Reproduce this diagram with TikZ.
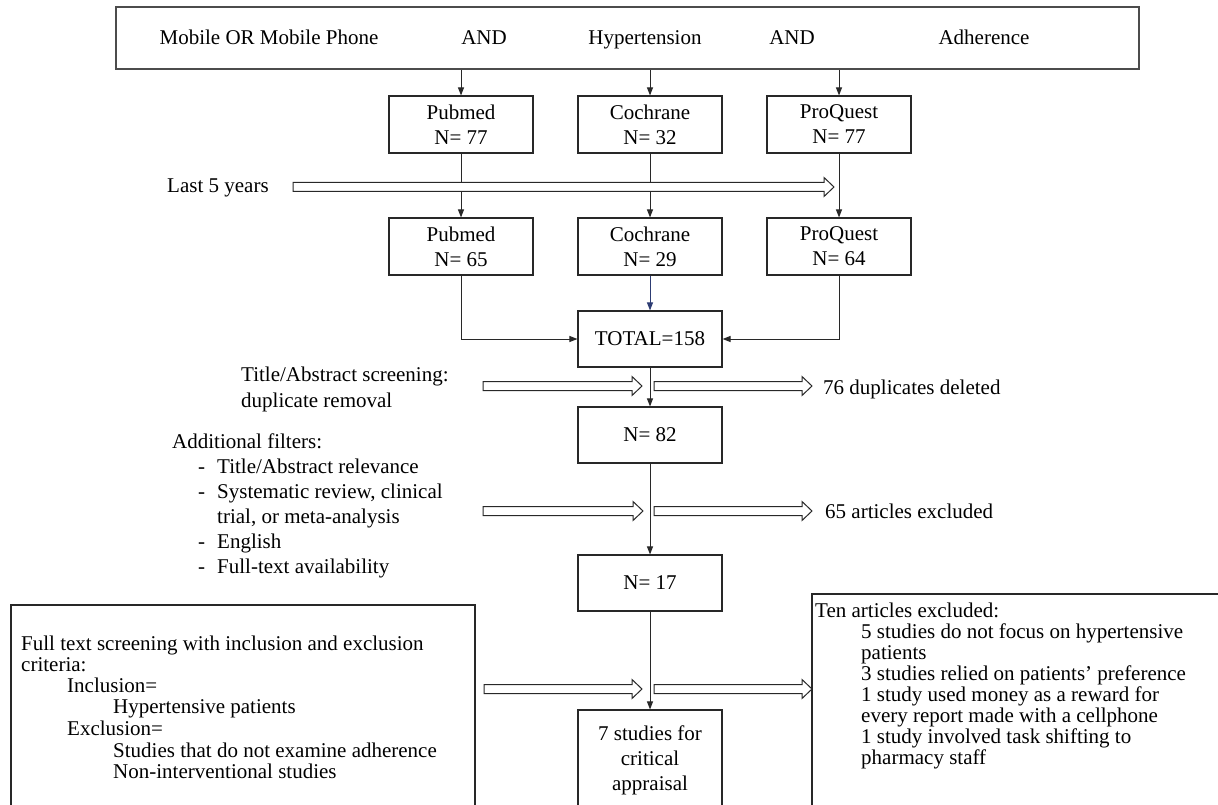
\documentclass[tikz,border=0pt]{standalone}
\usepackage{fontspec}
\setmainfont{Liberation Serif}
\usetikzlibrary{arrows.meta}
\definecolor{linecol}{RGB}{40,40,40}
\definecolor{bluecol}{RGB}{45,60,115}
\newcommand\myfs{\fontsize{21}{25}\selectfont}
\tikzset{
  box/.style={draw=linecol,line width=1.1pt,minimum width=144pt,minimum height=57pt,align=center,inner sep=2pt,font=\myfs},
  bigbox/.style={draw=linecol,line width=1.1pt,inner sep=0pt},
  lab/.style={anchor=base west,inner sep=0pt,font=\myfs},
  clab/.style={anchor=base,inner sep=0pt,font=\myfs},
  arr/.style={line width=1pt,draw=linecol,-{Triangle[length=8pt,width=6pt]}},
  pics/harrow/.style={code={\draw[line width=1pt,draw=linecol,fill=white] (0,-4.5)--(#1-10,-4.5)--(#1-10,-9.5)--(#1,0)--(#1-10,9.5)--(#1-10,4.5)--(0,4.5)--cycle;}}
}
\begin{document}
\begin{tikzpicture}[x=1pt,y=-1pt]
\useasboundingbox (0,0) rectangle (1218,805);
\clip (0,0) rectangle (1218,805);
\fill[white] (0,0) rectangle (1218,805);

% top search box
\node[bigbox,draw=black!70,line width=1.6pt,minimum width=1023pt,minimum height=62pt] (top) at (627.5,38) {};
\node[clab] (t1) at (269,45) {Mobile OR Mobile Phone};
\node[clab] (t2) at (484,45) {AND};
\node[clab] (t3) at (645,45) {Hypertension};
\node[clab] (t4) at (792,45) {AND};
\node[clab] (t5) at (984,45) {Adherence};

% first row
\node[box] (p1) at (461,124.5) {Pubmed\\N= 77};
\node[box] (c1) at (650,124.5) {Cochrane\\N= 32};
\node[box] (q1) at (839,124.5) {ProQuest\\N= 77};
% second row
\node[box] (p2) at (461,246.5) {Pubmed\\N= 65};
\node[box] (c2) at (650,246.5) {Cochrane\\N= 29};
\node[box] (q2) at (839,246.5) {ProQuest\\N= 64};

\node[box,minimum height=56pt] (tot) at (650,339) {TOTAL=158};
\node[box,minimum height=56pt] (n82) at (650,435) {N= 82};
\node[box,minimum height=56pt] (n17) at (650,583) {N= 17};
\node[box,minimum height=100pt] (s7) at (650,760) {7 studies for\\critical\\appraisal};

% connectors
\draw[arr] (p1.north |- top.south) -- (p1.north);
\draw[arr] (c1.north |- top.south) -- (c1.north);
\draw[arr] (q1.north |- top.south) -- (q1.north);
\draw[arr] (p1.south) -- (p2.north);
\draw[arr] (c1.south) -- (c2.north);
\draw[arr] (q1.south) -- (q2.north);
\draw[arr] (p2.south) |- (tot.west);
\draw[arr] (q2.south) |- (tot.east);
\draw[arr,draw=bluecol] (c2.south) -- (tot.north);
\draw[arr] (tot.south) -- (n82.north);
\draw[arr] (n82.south) -- (n17.north);
\draw[arr] (n17.south) -- (s7.north);

% last 5 years
\node[lab] (l5) at (167,193) {Last 5 years};
\pic at (293,187) {harrow=541};

% title/abstract screening
\node[lab] (ta1) at (241,381) {Title/Abstract screening:};
\node[lab] (ta2) at (241,407) {duplicate removal};
\pic at (483,386) {harrow=159};
\pic at (654,386) {harrow=158};
\node[lab] (dup) at (823,394) {76 duplicates deleted};

% additional filters
\node[lab] (af0) at (172,448) {Additional filters:};
\node[lab] (afb1) at (198,473) {-};
\node[lab] (af1) at (217,473) {Title/Abstract relevance};
\node[lab] (afb2) at (198,498) {-};
\node[lab] (af2) at (217,498) {Systematic review, clinical};
\node[lab] (af3) at (217,523) {trial, or meta-analysis};
\node[lab] (afb4) at (198,548) {-};
\node[lab] (af4) at (217,548) {English};
\node[lab] (afb5) at (198,573) {-};
\node[lab] (af5) at (217,573) {Full-text availability};
\pic at (483,511) {harrow=160};
\pic at (654,511) {harrow=158};
\node[lab] (ex65) at (825,518) {65 articles excluded};

% full text screening box
\draw[bigbox] (11,605) rectangle (475,840);
\node[lab] (f1) at (21,650) {Full text screening with inclusion and exclusion};
\node[lab] (f2) at (21,671) {criteria:};
\node[lab] (f3) at (67,692) {Inclusion=};
\node[lab] (f4) at (113,713.5) {Hypertensive patients};
\node[lab] (f5) at (67,735) {Exclusion=};
\node[lab] (f6) at (113,757) {Studies that do not examine adherence};
\node[lab] (f7) at (113,778) {Non-interventional studies};
\pic at (484,689) {harrow=158};
\pic at (654,689) {harrow=158};

% exclusion box
\draw[bigbox] (812,594) rectangle (1240,840);
\node[lab] (e0) at (815,617) {Ten articles excluded:};
\node[lab] (e1) at (861,638) {5 studies do not focus on hypertensive};
\node[lab] (e2) at (861,659) {patients};
\node[lab] (e3) at (861,680) {3 studies relied on patients' preference};
\node[lab] (e4) at (861,701) {1 study used money as a reward for};
\node[lab] (e5) at (861,722) {every report made with a cellphone};
\node[lab] (e6) at (861,743) {1 study involved task shifting to};
\node[lab] (e7) at (861,764) {pharmacy staff};
\end{tikzpicture}
\end{document}
